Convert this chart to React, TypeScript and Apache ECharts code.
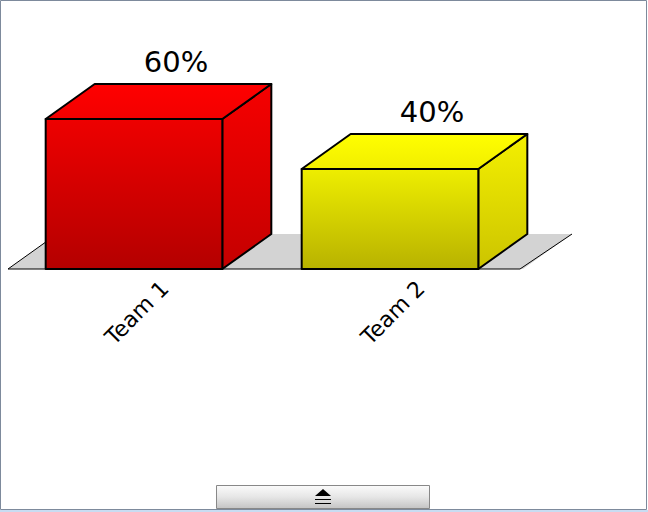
import React, { useEffect, useRef } from "react";
import * as echarts from "echarts";

const categories = ["Team 1", "Team 2"];
const values = [60, 40];
const valueLabels = ["60%", "40%"];

const palette = [
  { front: ["#ee0000", "#b40000"], top: ["#ff0000", "#f20000"], side: ["#f60000", "#c40000"] },
  { front: ["#eeee00", "#b8b200"], top: ["#ffff00", "#f2ee00"], side: ["#f4f000", "#ccc400"] },
];

const DX = 49;
const DY = 35;

function grad(c: string[]) {
  return new echarts.graphic.LinearGradient(0, 0, 0, 1, [
    { offset: 0, color: c[0] },
    { offset: 1, color: c[1] },
  ]);
}

export default function App() {
  const ref = useRef<HTMLDivElement>(null);
  useEffect(() => {
    if (!ref.current) return;
    const chart = echarts.init(ref.current, null, { renderer: "svg" });
    const n = categories.length;
    const option: any = {
      animation: false,
      backgroundColor: "#ffffff",
      grid: { left: 6, width: 512, top: 19, height: 250 },
      xAxis: {
        type: "category",
        data: categories,
        show: false,
      },
      yAxis: { type: "value", min: 0, max: 100, show: false },
      series: [
        {
          type: "custom",
          z: 1,
          data: [[0, 0]],
          renderItem: (params: any, api: any) => {
            const bw = api.size([1, 0])[0];
            const a = api.coord([0, 0]);
            const b = api.coord([n - 1, 0]);
            const xl = a[0] - bw / 2 + 2;
            const xr = b[0] + bw / 2 + 2;
            const y = a[1];
            return {
              type: "group",
              children: [
                {
                  type: "polygon",
                  shape: { points: [[xl, y], [xl + DX, y - DY], [xr + DX + 3, y - DY], [xr + 3, y]] },
                  style: { fill: "#d3d3d3", stroke: null },
                },
                {
                  type: "polyline",
                  shape: { points: [[xl + DX, y - DY], [xl, y], [xr, y], [xr + DX + 3, y - DY]] },
                  style: { fill: null, stroke: "#000", lineWidth: 1 },
                },
              ],
            };
          },
        },
        {
          type: "custom",
          z: 2,
          data: values.map((v, i) => [i, v]),
          renderItem: (params: any, api: any) => {
            const i = api.value(0);
            const v = api.value(1);
            const bw = api.size([1, 0])[0];
            const barW = bw * 0.69;
            const p0 = api.coord([i, 0]);
            const p1 = api.coord([i, v]);
            const x0 = p0[0] - barW / 2;
            const x1 = p0[0] + barW / 2;
            const yb = p0[1];
            const yt = p1[1];
            const pal = palette[i % palette.length];
            const edge = { stroke: "#000", lineWidth: 2, lineJoin: "round" };
            return {
              type: "group",
              children: [
                {
                  type: "polygon",
                  shape: { points: [[x1, yt], [x1 + DX, yt - DY], [x1 + DX, yb - DY], [x1, yb]] },
                  style: { fill: grad(pal.side), ...edge },
                },
                {
                  type: "polygon",
                  shape: { points: [[x0, yt], [x0 + DX, yt - DY], [x1 + DX, yt - DY], [x1, yt]] },
                  style: { fill: grad(pal.top), ...edge },
                },
                {
                  type: "rect",
                  shape: { x: x0, y: yt, width: barW, height: yb - yt },
                  style: { fill: grad(pal.front), ...edge },
                },
                {
                  type: "text",
                  x: p0[0] + 42,
                  y: yt - DY - 22,
                  style: {
                    text: valueLabels[i],
                    fill: "#000",
                    font: "29px 'DejaVu Sans'",
                    align: "center",
                    verticalAlign: "middle",
                  },
                },
                {
                  type: "text",
                  x: p0[0] + 23,
                  y: yb + 8,
                  rotation: Math.PI / 4,
                  style: {
                    text: categories[i],
                    fill: "#000",
                    font: "22px 'DejaVu Sans'",
                    align: "right",
                    verticalAlign: "top",
                  },
                },
              ],
            };
          },
        },
      ],
      graphic: [
        {
          type: "rect",
          z: 10,
          shape: { x: 0.5, y: 0.5, width: 646, height: 509 },
          style: { fill: null, stroke: "#7d8a9c", lineWidth: 1 },
        },
        {
          type: "line",
          z: 10,
          shape: { x1: 0, y1: 511, x2: 648, y2: 511 },
          style: { stroke: "#c8dcf2", lineWidth: 2 },
        },
        {
          type: "rect",
          z: 10,
          shape: { x: 216.5, y: 485.5, width: 213, height: 23 },
          style: {
            fill: new echarts.graphic.LinearGradient(0, 0, 0, 1, [
              { offset: 0, color: "#fbfbfb" },
              { offset: 0.5, color: "#e6e6e6" },
              { offset: 1, color: "#c4c4c4" },
            ]),
            stroke: "#888888",
            lineWidth: 1,
          },
        },
        {
          type: "polygon",
          z: 11,
          shape: { points: [[315, 496], [323, 489], [331, 496]] },
          style: { fill: "#000" },
        },
        {
          type: "line",
          z: 11,
          shape: { x1: 315, y1: 499.5, x2: 331, y2: 499.5 },
          style: { stroke: "#000", lineWidth: 1 },
        },
        {
          type: "line",
          z: 11,
          shape: { x1: 315, y1: 503.5, x2: 331, y2: 503.5 },
          style: { stroke: "#000", lineWidth: 1 },
        },
      ],
    };
    chart.setOption(option);
    return () => chart.dispose();
  }, []);
  return (
    <div
      ref={ref}
      style={{ position: "fixed", left: 0, top: 0, width: 648, height: 512 }}
    />
  );
}
